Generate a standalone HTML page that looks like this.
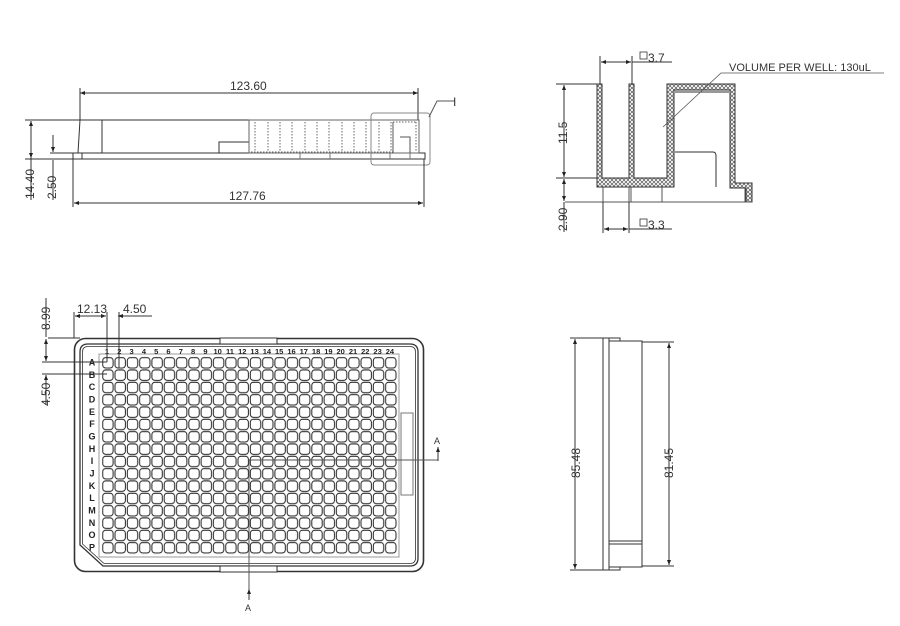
<!DOCTYPE html>
<html><head><meta charset="utf-8"><style>
html,body{margin:0;padding:0;background:#fff;}
svg{display:block;}
text{font-family:"Liberation Sans",sans-serif;fill:#333;}
.d{font-size:12px;}
.n{font-size:7.5px;font-weight:bold;fill:#222;}
.r{font-size:9px;font-weight:bold;fill:#222;}
</style></head><body>
<svg width="900" height="626" viewBox="0 0 900 626" xmlns="http://www.w3.org/2000/svg">
<defs>
<pattern id="wells" x="101.9" y="356.8" width="12.3" height="12.33" patternUnits="userSpaceOnUse">
<rect x="0.8" y="0.8" width="10.4" height="10.4" rx="3" fill="none" stroke="#222" stroke-width="1"/>
</pattern>
<pattern id="hatch" width="4" height="4" patternUnits="userSpaceOnUse">
<path d="M0,0 L4,4 M4,0 L0,4" stroke="#555" stroke-width="0.7"/>
</pattern>
<marker id="ar" viewBox="0 0 10 10" refX="10" refY="5" markerWidth="8" markerHeight="5" orient="auto-start-reverse" markerUnits="userSpaceOnUse">
<path d="M0,1 L10,5 L0,9 z" fill="#222"/>
</marker>
</defs>
<g fill="none" stroke="#333" stroke-width="1">

<!-- ===== TOP LEFT: side elevation ===== -->
<line x1="80" y1="88" x2="80" y2="120"/>
<line x1="418" y1="88" x2="418" y2="120"/>
<line x1="80" y1="93" x2="418" y2="93" marker-start="url(#ar)" marker-end="url(#ar)"/>
<path d="M80,120 L249,120 M80,120 L78,153 M102,120 L102,153 M219,153 L219,142 L249,142"/>
<rect x="73" y="153" width="352" height="6"/>
<line x1="82" y1="153" x2="82" y2="159"/>
<rect x="249" y="120" width="170" height="33" stroke="#666"/>
<g stroke="#666" stroke-dasharray="1.5 1.5">
<path d="M255,122V152 M268,122V152 M280,122V152 M292,122V152 M305,122V152 M317,122V152 M329,122V152 M342,122V152 M354,122V152 M366,122V152 M379,122V152 M391,122V152 M416,122V152 M393,122H416 M251,152H395"/>
</g>
<path d="M393,122 V153 M400,137 H410 V153" stroke="#555"/>
<path d="M300,153V159 M330,153V159 M390,153V159 M410,153V159" stroke="#777"/>
<rect x="371" y="113" width="59" height="52" rx="3" stroke="#888"/>
<path d="M429,117 L437,101 L455,101" stroke="#555"/>
<line x1="73" y1="159" x2="73" y2="207"/>
<line x1="424" y1="159" x2="424" y2="207"/>
<line x1="74" y1="203" x2="423" y2="203" marker-start="url(#ar)" marker-end="url(#ar)"/>
<line x1="25" y1="120" x2="80" y2="120"/>
<line x1="25" y1="159" x2="73" y2="159"/>
<line x1="31" y1="121" x2="31" y2="158" marker-start="url(#ar)" marker-end="url(#ar)"/>
<line x1="31" y1="158" x2="31" y2="200"/>
<line x1="50" y1="153" x2="78" y2="153"/>
<line x1="53" y1="135" x2="53" y2="152" marker-end="url(#ar)"/>
<line x1="53" y1="160" x2="53" y2="200"/>

<!-- ===== TOP RIGHT: section ===== -->
<g fill="url(#hatch)" stroke="#333">
<path d="M597,84 L602,84 L602,178 L629,178 L629,84 L634,84 L634,178 L667,178 L667,84 L735,84 L735,183 L752,183 L752,202 L746,202 L746,188 L730,188 L730,90 L674,90 L674,187 L597,187 Z"/>
</g>
<path d="M675,92 H729 M675,152 H713 Q716,152 716,156 V187"/>
<path d="M565,202 H752 M603,187V202 M629,187V202 M631,187V202 M662,187V202 M745,187V202" stroke="#555"/>
<line x1="556" y1="84" x2="597" y2="84"/>
<line x1="556" y1="178" x2="597" y2="178"/>
<line x1="564" y1="85" x2="564" y2="177" marker-start="url(#ar)" marker-end="url(#ar)"/>
<line x1="564" y1="179" x2="564" y2="201" marker-start="url(#ar)" marker-end="url(#ar)"/>
<line x1="564" y1="202" x2="564" y2="232"/>
<line x1="600" y1="56" x2="600" y2="84"/>
<line x1="632" y1="56" x2="632" y2="84"/>
<line x1="601" y1="62" x2="631" y2="62" marker-start="url(#ar)" marker-end="url(#ar)"/>
<line x1="632" y1="62" x2="672" y2="62"/>
<line x1="603" y1="202" x2="603" y2="233"/>
<line x1="629" y1="202" x2="629" y2="233"/>
<line x1="604" y1="229" x2="628" y2="229" marker-start="url(#ar)" marker-end="url(#ar)"/>
<line x1="629" y1="229" x2="672" y2="229"/>
<rect x="640" y="52" width="7" height="7" stroke-width="0.8"/>
<rect x="640" y="219" width="7" height="7" stroke-width="0.8"/>
<path d="M663,127 L721,73 L884,73" stroke="#555" stroke-width="0.8"/>

<!-- ===== BOTTOM LEFT: plate top view ===== -->
<rect x="74.5" y="338.5" width="349" height="233" rx="11" stroke-width="1.6"/>
<path d="M80,352 Q80,344 88,344 L410,344 Q418,344 418,352 L418,558 Q418,566 410,566 L103,566 L80,545 Z" stroke-width="1.3"/>
<path d="M82.5,352 Q82.5,346.5 88,346.5 L410,346.5 Q415.5,346.5 415.5,352 L415.5,558 Q415.5,563.5 410,563.5 L104,563.5 L82.5,544 Z" stroke-width="0.8"/>
<rect x="220" y="338" width="57" height="6" fill="#fff"/>
<rect x="220" y="566" width="57" height="6" fill="#fff"/>
<rect x="99" y="354" width="300" height="203" stroke="#999"/>
<rect x="101.9" y="356.8" width="295.2" height="197.3" fill="url(#wells)" stroke="none"/>
<rect x="401" y="413" width="12" height="82" stroke="#777"/>
<path d="M249,460 H438 M249,460 V600" stroke="#555"/>
<line x1="438" y1="461" x2="438" y2="447" marker-end="url(#ar)"/>
<line x1="249" y1="600" x2="249" y2="589" marker-end="url(#ar)" />
<line x1="48" y1="338" x2="80" y2="338"/>
<line x1="42" y1="362" x2="107" y2="362"/>
<line x1="42" y1="374" x2="107" y2="374"/>
<line x1="46" y1="298" x2="46" y2="337" />
<line x1="46" y1="339" x2="46" y2="361" marker-start="url(#ar)" marker-end="url(#ar)"/>
<line x1="46" y1="375" x2="46" y2="405" marker-start="url(#ar)"/>
<line x1="74" y1="312" x2="74" y2="338"/>
<line x1="107" y1="312" x2="107" y2="362"/>
<line x1="119" y1="312" x2="119" y2="368"/>
<line x1="75" y1="316" x2="106" y2="316" marker-start="url(#ar)" marker-end="url(#ar)"/>
<line x1="99" y1="316" x2="106" y2="316"/>
<line x1="118" y1="316" x2="152" y2="316" marker-start="url(#ar)"/>

<!-- ===== BOTTOM RIGHT: side view ===== -->
<rect x="603" y="338" width="6" height="232"/>
<rect x="609" y="341" width="33" height="226"/>
<path d="M609,338 H620 V341 M609,570 H620 V567 M609,541 H642 M609,544 H642"/>
<line x1="570" y1="338" x2="603" y2="338"/>
<line x1="570" y1="570" x2="603" y2="570"/>
<line x1="575" y1="339" x2="575" y2="569" marker-start="url(#ar)" marker-end="url(#ar)"/>
<line x1="642" y1="342" x2="674" y2="342"/>
<line x1="642" y1="566" x2="674" y2="566"/>
<line x1="669" y1="343" x2="669" y2="565" marker-start="url(#ar)" marker-end="url(#ar)"/>
</g>

<!-- texts -->
<text class="d" x="230" y="90">123.60</text>
<text class="d" x="229" y="200">127.76</text>
<text class="d" x="453" y="106">I</text>
<text class="d" transform="translate(34,199) rotate(-90)">14.40</text>
<text class="d" transform="translate(56,199) rotate(-90)">2.50</text>
<text class="d" x="648" y="62">3.7</text>
<text class="d" x="648" y="229">3.3</text>
<text class="d" x="729" y="71" style="font-size:11px">VOLUME PER WELL: 130uL</text>
<text class="d" transform="translate(567,144) rotate(-90)">11.5</text>
<text class="d" transform="translate(567,231) rotate(-90)">2.90</text>
<text class="d" transform="translate(50,330) rotate(-90)">8.99</text>
<text class="d" transform="translate(50,406) rotate(-90)">4.50</text>
<text class="d" x="77" y="313">12.13</text>
<text class="d" x="123" y="313">4.50</text>
<text class="d" x="434" y="444" style="font-size:9px">A</text>
<text class="d" x="245" y="611" style="font-size:9px">A</text>
<text class="d" transform="translate(580,478) rotate(-90)">85.48</text>
<text class="d" transform="translate(673,478) rotate(-90)">81.45</text>

<g text-anchor="middle">
<text class="n" x="107" y="354">1</text><text class="n" x="119.3" y="354">2</text><text class="n" x="131.6" y="354">3</text><text class="n" x="143.9" y="354">4</text><text class="n" x="156.2" y="354">5</text><text class="n" x="168.5" y="354">6</text><text class="n" x="180.8" y="354">7</text><text class="n" x="193.1" y="354">8</text><text class="n" x="205.4" y="354">9</text><text class="n" x="217.7" y="354">10</text><text class="n" x="230" y="354">11</text><text class="n" x="242.3" y="354">12</text><text class="n" x="254.6" y="354">13</text><text class="n" x="266.9" y="354">14</text><text class="n" x="279.2" y="354">15</text><text class="n" x="291.5" y="354">16</text><text class="n" x="303.8" y="354">17</text><text class="n" x="316.1" y="354">18</text><text class="n" x="328.4" y="354">19</text><text class="n" x="340.7" y="354">20</text><text class="n" x="353" y="354">21</text><text class="n" x="365.3" y="354">22</text><text class="n" x="377.6" y="354">23</text><text class="n" x="389.9" y="354">24</text>
</g>
<g text-anchor="middle">
<text class="r" x="92" y="365.5">A</text><text class="r" x="92" y="377.8">B</text><text class="r" x="92" y="390.2">C</text><text class="r" x="92" y="402.5">D</text><text class="r" x="92" y="414.8">E</text><text class="r" x="92" y="427.2">F</text><text class="r" x="92" y="439.5">G</text><text class="r" x="92" y="451.8">H</text><text class="r" x="92" y="464.1">I</text><text class="r" x="92" y="476.5">J</text><text class="r" x="92" y="488.8">K</text><text class="r" x="92" y="501.1">L</text><text class="r" x="92" y="513.5">M</text><text class="r" x="92" y="525.8">N</text><text class="r" x="92" y="538.1">O</text><text class="r" x="92" y="550.5">P</text>
</g>
</svg>
</body></html>
